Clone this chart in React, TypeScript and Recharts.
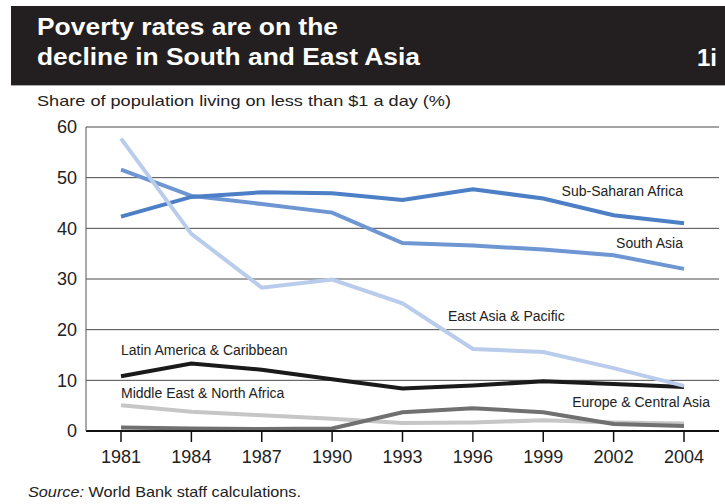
import { LineChart, Line, XAxis, YAxis, CartesianGrid } from "recharts"

// values (% of population under $1 a day)
const years = ["1981", "1984", "1987", "1990", "1993", "1996", "1999", "2002", "2004"]
const subSaharan = [42.3, 46.2, 47.1, 46.9, 45.6, 47.7, 45.9, 42.6, 41.0]
const southAsia = [51.6, 46.4, 44.8, 43.1, 37.1, 36.6, 35.8, 34.7, 32.0]
const eastAsia = [57.7, 38.9, 28.3, 29.9, 25.2, 16.2, 15.6, 12.4, 8.9]
const latinAmerica = [10.8, 13.3, 12.1, 10.2, 8.4, 9.0, 9.8, 9.3, 8.7]
const middleEast = [5.1, 3.8, 3.1, 2.4, 1.6, 1.7, 2.1, 1.7, 1.5]
const europeCA = [0.7, 0.5, 0.4, 0.5, 3.7, 4.5, 3.7, 1.4, 1.0]
const yTicks = [0, 10, 20, 30, 40, 50, 60]

const data = years.map((year, i) => ({
  year,
  ssa: subSaharan[i],
  sa: southAsia[i],
  eap: eastAsia[i],
  lac: latinAmerica[i],
  mena: middleEast[i],
  eca: europeCA[i],
}))

const font = "'Liberation Sans', Arial, sans-serif"

export default function App() {
  return (
    <div style={{ position: "absolute", left: 0, top: 0, width: 725, height: 504, background: "#fff", fontFamily: font }}>
      <LineChart
        width={725}
        height={504}
        data={data}
        margin={{ top: 127, right: 6, bottom: 33, left: 0 }}
        style={{ position: "absolute", left: 0, top: 0 }}
      >
        <CartesianGrid vertical={false} stroke="#4a4a4a" strokeWidth={1} />
        <XAxis
          dataKey="year"
          height={40}
          padding={{ left: 35, right: 35 }}
          axisLine={{ stroke: "#111", strokeWidth: 2 }}
          tickLine={{ stroke: "#111", strokeWidth: 1.5 }}
          tickSize={11}
          tickMargin={8}
          tick={{ fill: "#222", fontSize: 18, fontFamily: font }}
          interval={0}
        />
        <YAxis
          width={86}
          domain={[0, 60]}
          ticks={yTicks}
          axisLine={{ stroke: "#555", strokeWidth: 1 }}
          tickLine={false}
          tickSize={0}
          tickMargin={9}
          tick={{ fill: "#222", fontSize: 18, fontFamily: font }}
        />
        <Line dataKey="mena" stroke="#c6c6c6" strokeWidth={4} dot={false} isAnimationActive={false} />
        <Line dataKey="eca" stroke="#707070" strokeWidth={4} dot={false} isAnimationActive={false} />
        <Line dataKey="lac" stroke="#1a1a1a" strokeWidth={4} dot={false} isAnimationActive={false} />
        <Line dataKey="sa" stroke="#6e96d2" strokeWidth={4} dot={false} isAnimationActive={false} />
        <Line dataKey="ssa" stroke="#4c7fc6" strokeWidth={4} dot={false} isAnimationActive={false} />
        <Line dataKey="eap" stroke="#b9cceb" strokeWidth={4} dot={false} isAnimationActive={false} />
      </LineChart>

      <svg width={725} height={504} style={{ position: "absolute", left: 0, top: 0, pointerEvents: "none" }}>
        <rect x={11} y={6} width={714} height={79} fill="#231f20" />
        <line x1={11} x2={725} y1={85.5} y2={85.5} stroke="#aaa" strokeWidth={1} />
        <text x={37} y={35} fill="#fff" fontSize={24} fontWeight="bold" fontFamily={font} textLength={301} lengthAdjust="spacingAndGlyphs">
          Poverty rates are on the
        </text>
        <text x={37} y={65} fill="#fff" fontSize={24} fontWeight="bold" fontFamily={font} textLength={383} lengthAdjust="spacingAndGlyphs">
          decline in South and East Asia
        </text>
        <text x={717} y={66} fill="#fff" fontSize={24} fontWeight="bold" fontFamily={font} textAnchor="end">
          1i
        </text>
        <text x={37} y={106} fill="#222" fontSize={15} fontFamily={font} textLength={414} lengthAdjust="spacingAndGlyphs">
          Share of population living on less than $1 a day (%)
        </text>

        <g fontSize={14} fontFamily={font} fill="#222">
          <text x={683} y={196} textAnchor="end">Sub-Saharan Africa</text>
          <text x={683} y={248} textAnchor="end">South Asia</text>
          <text x={448} y={321}>East Asia &amp; Pacific</text>
          <text x={121} y={355}>Latin America &amp; Caribbean</text>
          <text x={121} y={398}>Middle East &amp; North Africa</text>
          <text x={710} y={407} textAnchor="end">Europe &amp; Central Asia</text>
        </g>

        <text x={28} y={497} fill="#222" fontSize={15} fontFamily={font} textLength={273} lengthAdjust="spacingAndGlyphs">
          <tspan fontStyle="italic">Source:</tspan> World Bank staff calculations.
        </text>
      </svg>
    </div>
  )
}
